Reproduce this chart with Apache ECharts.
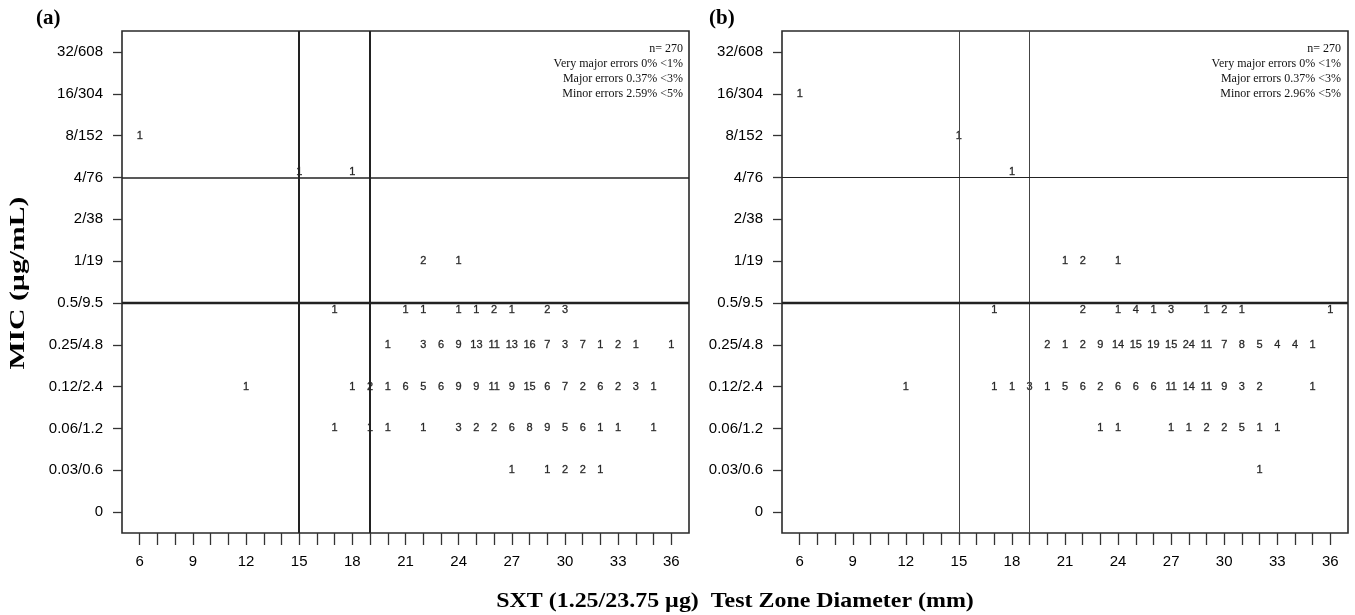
<!DOCTYPE html>
<html><head><meta charset="utf-8">
<script src="https://cdn.jsdelivr.net/npm/echarts@6/dist/echarts.min.js"></script>
<style>html,body{margin:0;padding:0;background:#fff}#c{width:1355px;height:615px}</style>
</head><body><div id="c"></div>
<script>
// ---------- DATA ----------
const micLabels = ['0','0.03/0.6','0.06/1.2','0.12/2.4','0.25/4.8','0.5/9.5','1/19','2/38','4/76','8/152','16/304','32/608'];
const zoneTicks = [6,7,8,9,10,11,12,13,14,15,16,17,18,19,20,21,22,23,24,25,26,27,28,29,30,31,32,33,34,35,36];
const zoneLabels = [6,9,12,15,18,21,24,27,30,33,36];
const zoneBreakpoints = [15, 19];
const micBreakpoints = ['0.5/9.5', '4/76'];

// Panel (a): [zone diameter (mm), count] per MIC row
const a_32_608 = [];
const a_16_304 = [];
const a_8_152  = [[6,1]];
const a_4_76   = [[15,1],[18,1]];
const a_2_38   = [];
const a_1_19   = [[22,2],[24,1]];
const a_05_95  = [[17,1],[21,1],[22,1],[24,1],[25,1],[26,2],[27,1],[29,2],[30,3]];
const a_025_48 = [[20,1],[22,3],[23,6],[24,9],[25,13],[26,11],[27,13],[28,16],[29,7],[30,3],[31,7],[32,1],[33,2],[34,1],[36,1]];
const a_012_24 = [[12,1],[18,1],[19,2],[20,1],[21,6],[22,5],[23,6],[24,9],[25,9],[26,11],[27,9],[28,15],[29,6],[30,7],[31,2],[32,6],[33,2],[34,3],[35,1]];
const a_006_12 = [[17,1],[19,1],[20,1],[22,1],[24,3],[25,2],[26,2],[27,6],[28,8],[29,9],[30,5],[31,6],[32,1],[33,1],[35,1]];
const a_003_06 = [[27,1],[29,1],[30,2],[31,2],[32,1]];
const a_0      = [];

// Panel (b)
const b_32_608 = [];
const b_16_304 = [[6,1]];
const b_8_152  = [[15,1]];
const b_4_76   = [[18,1]];
const b_2_38   = [];
const b_1_19   = [[21,1],[22,2],[24,1]];
const b_05_95  = [[17,1],[22,2],[24,1],[25,4],[26,1],[27,3],[29,1],[30,2],[31,1],[36,1]];
const b_025_48 = [[20,2],[21,1],[22,2],[23,9],[24,14],[25,15],[26,19],[27,15],[28,24],[29,11],[30,7],[31,8],[32,5],[33,4],[34,4],[35,1]];
const b_012_24 = [[12,1],[17,1],[18,1],[19,3],[20,1],[21,5],[22,6],[23,2],[24,6],[25,6],[26,6],[27,11],[28,14],[29,11],[30,9],[31,3],[32,2],[35,1]];
const b_006_12 = [[23,1],[24,1],[27,1],[28,1],[29,2],[30,2],[31,5],[32,1],[33,1]];
const b_003_06 = [[32,1]];
const b_0      = [];

const statsA = ['n= 270', 'Very major errors 0% <1%', 'Major errors 0.37% <3%', 'Minor errors 2.59% <5%'];
const statsB = ['n= 270', 'Very major errors 0% <1%', 'Major errors 0.37% <3%', 'Minor errors 2.96% <5%'];
const panelTitles = ['(a)', '(b)'];
const yTitle = 'MIC (\u00b5g/mL)';
const xTitle = 'SXT (1.25/23.75 \u00b5g)  Test Zone Diameter (mm)';

// rows ordered from bottom (index 0) to top
const rowsA = [a_0, a_003_06, a_006_12, a_012_24, a_025_48, a_05_95, a_1_19, a_2_38, a_4_76, a_8_152, a_16_304, a_32_608];
const rowsB = [b_0, b_003_06, b_006_12, b_012_24, b_025_48, b_05_95, b_1_19, b_2_38, b_4_76, b_8_152, b_16_304, b_32_608];

// ---------- STYLE ----------
const SANS = "'Liberation Sans', Arial, sans-serif";
const SERIF = "'Liberation Serif', 'Times New Roman', serif";
const rowLabelShift = {5: 7, 8: -5};

function buildData(rows) {
  const out = [];
  rows.forEach((row, ri) => {
    row.forEach(([mm, n]) => {
      out.push({ value: [mm, ri, n], label: { offset: [0, rowLabelShift[ri] || 0] } });
    });
  });
  return out;
}

const grids = [
  { left: 122, right: 666, top: 31, bottom: 82 },
  { left: 782, right: 7, top: 31, bottom: 82 }
];

function xAxisFor(i) {
  return {
    type: 'value', gridIndex: i, min: 5, max: 37,
    axisLine: { show: false }, splitLine: { show: false },
    axisTick: { show: true, length: 12, customValues: zoneTicks, lineStyle: { color: '#333', width: 1.3 } },
    axisLabel: { customValues: zoneLabels, fontSize: 15, fontFamily: SANS, color: '#000', margin: 21 }
  };
}
function yAxisFor(i) {
  return {
    type: 'category', gridIndex: i, data: micLabels, boundaryGap: true,
    axisLine: { show: false }, splitLine: { show: false },
    axisTick: { show: true, alignWithLabel: true, interval: 0, length: 9, lineStyle: { color: '#333', width: 1.3 } },
    axisLabel: { interval: 0, fontSize: 15, fontFamily: SANS, color: '#000', margin: 19 }
  };
}

const lineW = [
  { v: [2, 2], h: [2.4, 1.5], vc: '#222' },
  { v: [1, 1], h: [2.4, 1.2], vc: '#444' }
];

function seriesFor(i, rows) {
  const lw = lineW[i];
  const ml = [];
  zoneBreakpoints.forEach((z, k) => ml.push({ xAxis: z, lineStyle: { width: lw.v[k], color: lw.vc, type: 'solid' } }));
  micBreakpoints.forEach((m, k) => ml.push({ yAxis: m, lineStyle: { width: lw.h[k], color: '#222', type: 'solid' } }));
  return {
    type: 'scatter', xAxisIndex: i, yAxisIndex: i,
    data: buildData(rows),
    symbolSize: 1, itemStyle: { color: 'rgba(0,0,0,0)' },
    silent: true, animation: false,
    label: { show: true, position: 'inside', formatter: p => String(p.value[2]),
      fontSize: 11, fontFamily: SANS, color: '#000', textBorderColor: '#222', textBorderWidth: 0.35 },
    emphasis: { disabled: true },
    markLine: { silent: true, symbol: ['none', 'none'], label: { show: false }, animation: false, data: ml },
    z: 3
  };
}

const graphics = [];
[[36, panelTitles[0]], [709, panelTitles[1]]].forEach(([x, t]) => {
  graphics.push({ type: 'text', left: x, top: 8, style: { text: t, font: 'bold 21px ' + SERIF, fill: '#000' } });
});
[[683, statsA], [1341, statsB]].forEach(([x, arr]) => {
  arr.forEach((t, k) => graphics.push({ type: 'text', x: x, y: 49 + k * 15,
    style: { text: t, font: '12px ' + SERIF, fill: '#111', textAlign: 'right', align: 'right', textVerticalAlign: 'middle', verticalAlign: 'middle' } }));
});
graphics.push({ type: 'text', x: 18, y: 283, rotation: Math.PI / 2, scaleX: 1.35,
  style: { text: yTitle, font: 'bold 22px ' + SERIF, fill: '#000', textAlign: 'center', align: 'center', textVerticalAlign: 'middle', verticalAlign: 'middle' } });
graphics.push({ type: 'text', x: 735, y: 602, scaleX: 1.14,
  style: { text: xTitle, font: 'bold 21px ' + SERIF, fill: '#000', textAlign: 'center', align: 'center', textVerticalAlign: 'middle', verticalAlign: 'middle' } });

const chart = echarts.init(document.getElementById('c'), null, { renderer: 'canvas' });
chart.setOption({
  backgroundColor: '#fff',
  animation: false,
  grid: grids.map(g => Object.assign({ show: true, borderColor: '#2a2a2a', borderWidth: 1.6, backgroundColor: 'rgba(0,0,0,0)' }, g)),
  xAxis: [xAxisFor(0), xAxisFor(1)],
  yAxis: [yAxisFor(0), yAxisFor(1)],
  series: [seriesFor(0, rowsA), seriesFor(1, rowsB)],
  graphic: graphics
});
</script></body></html>
